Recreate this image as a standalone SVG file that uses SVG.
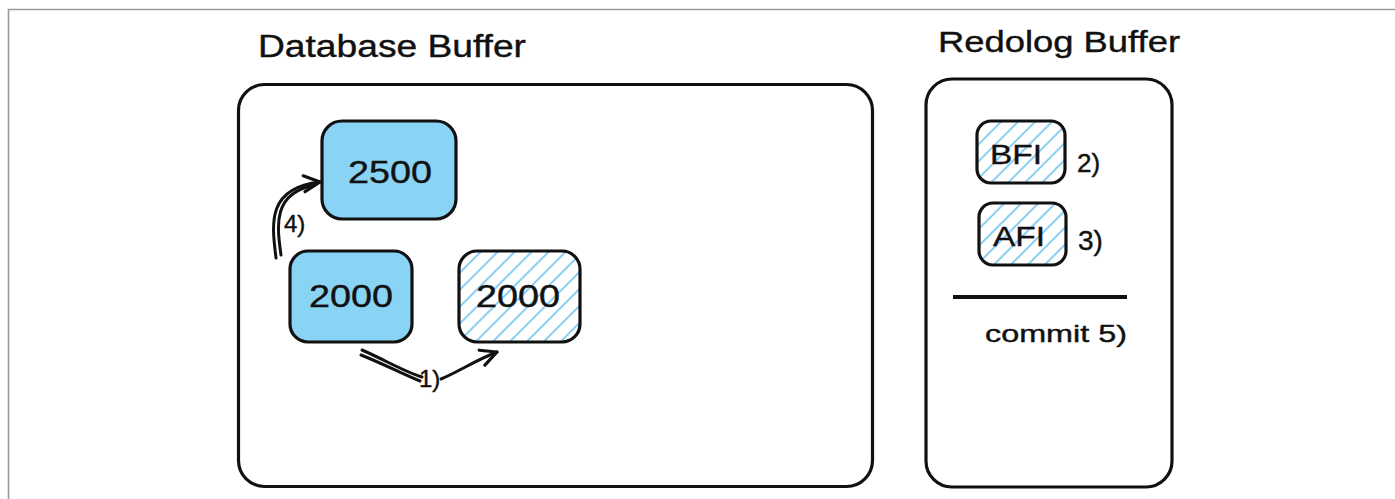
<svg xmlns="http://www.w3.org/2000/svg" width="1395" height="499" viewBox="0 0 1395 499">
<defs>
<pattern id="hatch" patternUnits="userSpaceOnUse" width="12" height="12" patternTransform="rotate(45)">
<line x1="2" y1="0" x2="2" y2="12" stroke="#6cc4f0" stroke-width="1.6"/>
</pattern>
<marker id="arr" viewBox="0 0 20 20" refX="18" refY="10" markerWidth="20" markerHeight="20" markerUnits="userSpaceOnUse" orient="auto">
<path d="M2 2 L18 10 L2 18" fill="none" stroke="#111" stroke-width="3.2" stroke-linecap="round" stroke-linejoin="round"/>
</marker>
<style>
.box{fill:none;stroke:#111;stroke-width:3.2}
.solid{fill:#89d4f4;stroke:#111;stroke-width:3.2}
.hatched{fill:url(#hatch);stroke:#111;stroke-width:3.2}
.t{font-family:"Liberation Sans",Arial,sans-serif;fill:#111;stroke:#111;stroke-width:0.4}
.conn{fill:none;stroke:#111;stroke-width:3;stroke-linecap:round}
</style>
</defs>
<rect width="1395" height="499" fill="#fff"/>
<path d="M8.5 499 V9.5 H1395" fill="none" stroke="#9a9a9a" stroke-width="1.6"/>

<g id="database-buffer">
<text class="t" x="258" y="57" font-size="31" textLength="268" lengthAdjust="spacingAndGlyphs">Database Buffer</text>
<rect class="box" x="238.5" y="84.5" width="634" height="402" rx="26"/>
</g>

<g id="redolog-buffer">
<text class="t" x="938" y="52" font-size="30" textLength="242" lengthAdjust="spacingAndGlyphs">Redolog Buffer</text>
<rect class="box" x="926" y="79" width="246" height="408" rx="26"/>
</g>

<g id="node-2500">
<rect class="solid" x="322" y="121" width="134" height="98" rx="20"/>
<text class="t" x="390" y="183" font-size="31" text-anchor="middle" textLength="84" lengthAdjust="spacingAndGlyphs">2500</text>
</g>

<g id="node-2000-left">
<rect class="solid" x="290" y="251" width="122" height="91" rx="18"/>
<text class="t" x="351" y="307" font-size="31" text-anchor="middle" textLength="84" lengthAdjust="spacingAndGlyphs">2000</text>
</g>

<g id="node-2000-right">
<rect class="hatched" x="459" y="251" width="121" height="91" rx="18"/>
<text class="t" x="518" y="307" font-size="31" text-anchor="middle" textLength="84" lengthAdjust="spacingAndGlyphs">2000</text>
</g>

<g id="node-bfi">
<rect class="hatched" x="977" y="121" width="88" height="62" rx="14"/>
<text class="t" x="1016" y="164" font-size="28" text-anchor="middle" textLength="52" lengthAdjust="spacingAndGlyphs">BFI</text>
<text class="t" x="1077" y="172" font-size="26">2)</text>
</g>

<g id="node-afi">
<rect class="hatched" x="979" y="203" width="87" height="62" rx="14"/>
<text class="t" x="1019" y="246" font-size="28" text-anchor="middle" textLength="52" lengthAdjust="spacingAndGlyphs">AFI</text>
<text class="t" x="1078" y="250" font-size="28">3)</text>
</g>

<g id="commit">
<line x1="953" y1="297" x2="1127" y2="297" stroke="#111" stroke-width="4"/>
<text class="t" x="985" y="342" font-size="24" textLength="142" lengthAdjust="spacingAndGlyphs">commit 5)</text>
</g>

<g id="connectors">
<path class="conn" d="M276 258 C272 225 266 188 320 182" marker-end="url(#arr)"/>
<path class="conn" d="M281 255 C277 226 272 193 315 185"/>
<text class="t" x="284" y="232" font-size="24">4)</text>
<path class="conn" d="M362 350 C385 360 405 372 422 377"/>
<path class="conn" d="M361 355 C384 364 402 374 420 381"/>
<text class="t" x="419" y="387" font-size="24">1)</text>
<path class="conn" d="M441 379 C458 372 476 360 497 352" marker-end="url(#arr)"/>
</g>
</svg>
